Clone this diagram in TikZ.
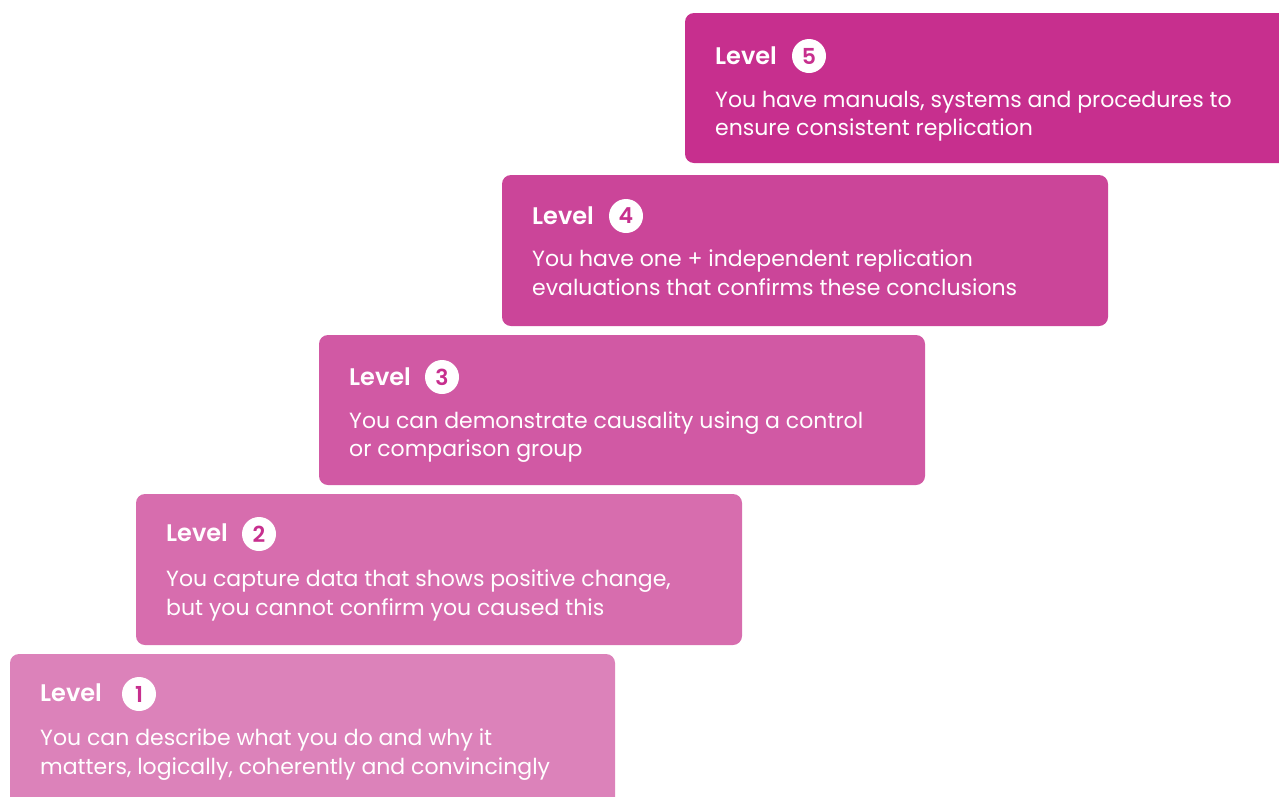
\documentclass[tikz,border=0pt]{standalone}
\usepackage{fontspec}
\setmainfont{Poppins}
\newfontfamily\boldf{Poppins SemiBold}
\definecolor{cfive}{HTML}{C72F8E}
\definecolor{cfour}{HTML}{CB4599}
\definecolor{cthree}{HTML}{D159A4}
\definecolor{ctwo}{HTML}{D76DAE}
\definecolor{cone}{HTML}{DC82BA}
\tikzset{
  stepbox/.style={rounded corners=9pt},
  lvl/.style={anchor=base west, inner sep=0pt, text=white, font=\boldf\fontsize{24}{28}\selectfont},
  body/.style={anchor=base west, inner sep=0pt, text=white, font=\fontsize{22}{29}\selectfont},
  num/.style={circle, fill=white, minimum size=34pt, inner sep=0pt, text=cfive, font=\boldf\fontsize{22}{24}\selectfont},
}
\begin{document}
\begin{tikzpicture}[x=1pt,y=-1pt]
\useasboundingbox (0,0) rectangle (1279,796);
\clip (0,0) rectangle (1279,796);
% boxes
\fill[cfive, stepbox] (685,13) rectangle (1300,163);
\fill[cfour, stepbox] (502,175) rectangle (1108,326);
\fill[cthree, stepbox] (319,335) rectangle (925,485);
\fill[ctwo, stepbox] (136,494) rectangle (742,645);
\fill[cone, stepbox] (10,654) rectangle (615,820);
% level 5
\node[lvl] (l5) at (715,64.5) {Level};
\node[num] (n5) at (809,56) {5};
\node[body] (t5a) at (715,107.5) {You have manuals, systems and procedures to};
\node[body] (t5b) at (715,135.5) {ensure consistent replication};
% level 4
\node[lvl] (l4) at (532,224.5) {Level};
\node[num] (n4) at (626,216) {4};
\node[body] (t4a) at (532,266.5) {You have one + independent replication};
\node[body] (t4b) at (532,295.5) {evaluations that confirms these conclusions};
% level 3
\node[lvl] (l3) at (349,385.5) {Level};
\node[num] (n3) at (442,377) {3};
\node[body] (t3a) at (349,428.5) {You can demonstrate causality using a control};
\node[body] (t3b) at (349,456.5) {or comparison group};
% level 2
\node[lvl] (l2) at (166,541.5) {Level};
\node[num] (n2) at (259,534) {2};
\node[body] (t2a) at (166,586.5) {You capture data that shows positive change,};
\node[body] (t2b) at (166,615.5) {but you cannot confirm you caused this};
% level 1
\node[lvl] (l1) at (40,701.5) {Level};
\node[num] (n1) at (139,694) {1};
\node[body] (t1a) at (40,745.5) {You can describe what you do and why it};
\node[body] (t1b) at (40,774.5) {matters, logically, coherently and convincingly};
\end{tikzpicture}
\end{document}
